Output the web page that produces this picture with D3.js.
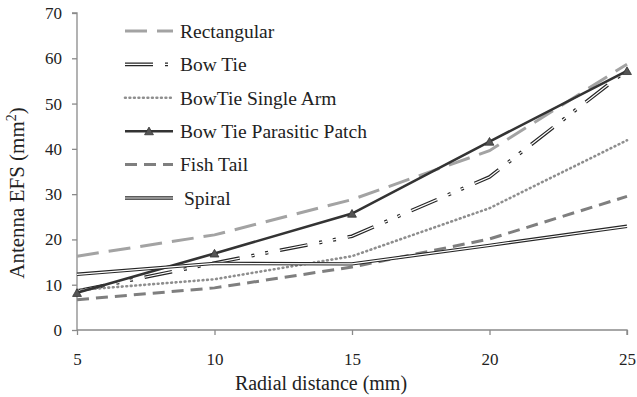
<!DOCTYPE html>
<html>
<head>
<meta charset="utf-8">
<script src="https://cdn.jsdelivr.net/npm/d3@7"></script>
<style>
  body { margin: 0; background: #fff; }
  text { font-family: "Liberation Serif", "Times New Roman", serif; fill: #222; }
</style>
</head>
<body>
<div id="chart"></div>
<script>
// data
const radial = [5, 10, 15, 20, 25];
const yTicks = [0, 10, 20, 30, 40, 50, 60, 70];
const rectangular = [16.3, 21.0, 28.8, 39.6, 58.7];
const bowTie = [8.6, 14.8, 20.7, 33.8, 57.4];
const singleArm = [8.8, 11.2, 16.3, 26.9, 41.9];
const parasitic = [8.2, 16.9, 25.7, 41.6, 57.2];
const fishTail = [6.7, 9.3, 13.9, 20.1, 29.5];
const spiral = [12.3, 14.7, 14.6, 18.7, 22.9];
const seriesNames = ['Rectangular', 'Bow Tie', 'BowTie Single Arm', 'Bow Tie Parasitic Patch', 'Fish Tail', 'Spiral'];

const width = 637, height = 397;
const margin = { top: 13, right: 10, bottom: 67, left: 77 };

const svg = d3.select('#chart').append('svg')
  .attr('width', width)
  .attr('height', height);

const x = d3.scaleLinear().domain([5, 25]).range([margin.left, 627]);
const y = d3.scaleLinear().domain([0, 70]).range([height - margin.bottom, margin.top]);

// styles per series
const styles = [
  { values: rectangular, kind: 'dash', color: '#a3a3a3', w: 3, dash: '22,10' },
  { values: bowTie, kind: 'double', color: '#262626', w: 3.6, inner: 1.2, dash: '28,12,3,11,3,12' },
  { values: singleArm, kind: 'dot', color: '#8e8e8e', w: 2.6, dash: '0.8,3.7' },
  { values: parasitic, kind: 'marker', color: '#333', w: 2.6 },
  { values: fishTail, kind: 'dash', color: '#7f7f7f', w: 3, dash: '12,7' },
  { values: spiral, kind: 'double', color: '#262626', w: 3.4, inner: 1.2 }
];

// axes
const yAxis = d3.axisLeft(y).tickValues(yTicks).tickSize(5).tickPadding(10);
const xAxis = d3.axisBottom(x).tickValues(radial).tickSize(5).tickPadding(18);

const gy = svg.append('g')
  .attr('transform', `translate(${margin.left},0)`)
  .call(yAxis);
const gx = svg.append('g')
  .attr('transform', `translate(0,${height - margin.bottom})`)
  .call(xAxis);

[gx, gy].forEach(g => {
  g.select('.domain').attr('stroke', '#8a8a8a').attr('stroke-width', 1.3);
  g.selectAll('.tick line').attr('stroke', '#8a8a8a').attr('stroke-width', 1.3);
  g.selectAll('.tick text')
    .attr('font-family', '"Liberation Serif", serif')
    .attr('font-size', '17px')
    .attr('fill', '#222');
});
gy.select('.domain').attr('d', `M-5,${y(70)}H0V${y(0)}`);
gx.select('.domain').attr('d', `M${x(5)},0H${x(25)}V5`);

// axis titles
svg.append('text')
  .attr('x', 321)
  .attr('y', 390)
  .attr('text-anchor', 'middle')
  .attr('font-size', '20px')
  .text('Radial distance (mm)');

const yt = svg.append('text')
  .attr('transform', 'translate(24,193) rotate(-90)')
  .attr('text-anchor', 'middle')
  .attr('font-size', '21px');
yt.append('tspan').text('Antenna EFS  (mm');
yt.append('tspan').attr('font-size', '14px').attr('dy', -8).text('2');
yt.append('tspan').attr('dy', 8).text(')');

const line = d3.line()
  .x((d, i) => x(radial[i]))
  .y(d => y(d));

function drawSeries(g, s, pathD) {
  if (s.kind === 'double') {
    g.append('path').attr('d', pathD).attr('fill', 'none')
      .attr('stroke', s.color).attr('stroke-width', s.w)
      .attr('stroke-dasharray', s.dash || null);
    g.append('path').attr('d', pathD).attr('fill', 'none')
      .attr('stroke', '#fff').attr('stroke-width', s.inner)
      .attr('stroke-dasharray', s.dash || null);
  } else {
    g.append('path').attr('d', pathD).attr('fill', 'none')
      .attr('stroke', s.color).attr('stroke-width', s.w)
      .attr('stroke-linecap', s.kind === 'dot' ? 'round' : 'butt')
      .attr('stroke-dasharray', s.dash || null);
  }
}

const tri = d3.symbol().type(d3.symbolTriangle).size(34);

const plot = svg.append('g');
styles.forEach(s => {
  const g = plot.append('g');
  drawSeries(g, s, line(s.values));
  if (s.kind === 'marker') {
    g.selectAll('path.mk')
      .data(s.values)
      .enter()
      .append('path')
      .attr('class', 'mk')
      .attr('d', tri)
      .attr('transform', (d, i) => `translate(${x(radial[i])},${y(d) + 1})`)
      .attr('fill', '#555')
      .attr('stroke', '#333')
      .attr('stroke-width', 0.8);
  }
});

// legend
const legend = svg.append('g').attr('transform', 'translate(125,31)');
styles.forEach((s, i) => {
  const row = legend.append('g').attr('transform', `translate(0,${i * 33.4})`);
  drawSeries(row, s, 'M0,0H48');
  if (s.kind === 'marker') {
    row.append('path').attr('d', tri).attr('transform', 'translate(24,1)')
      .attr('fill', '#555').attr('stroke', '#333').attr('stroke-width', 0.8);
  }
  row.append('text')
    .attr('x', i === 5 ? 59 : 55)
    .attr('y', 0)
    .attr('dy', '0.35em')
    .attr('font-size', '19.5px')
    .text(seriesNames[i]);
});
</script>
</body>
</html>
